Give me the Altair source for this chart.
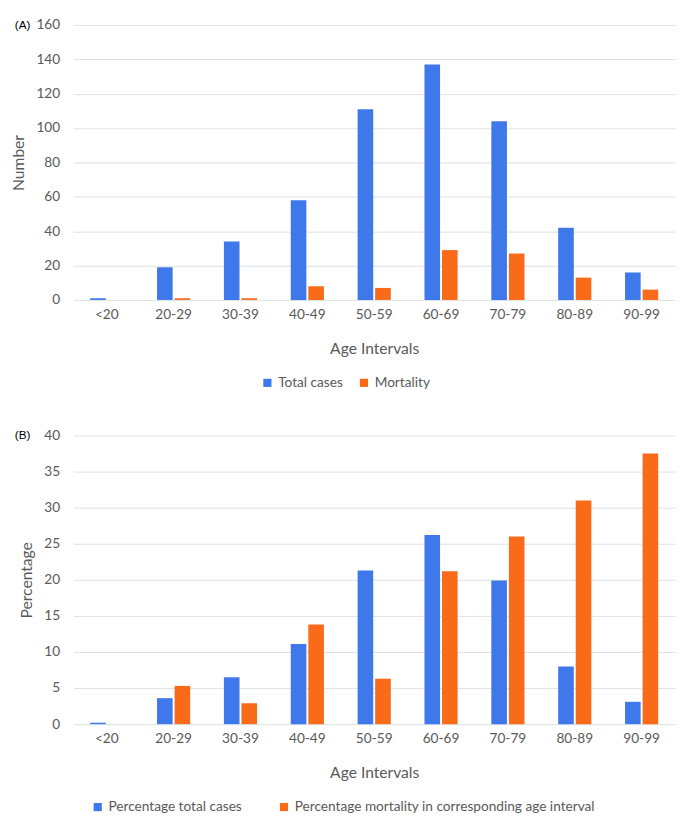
import altair as alt
import pandas as pd

ages = ["<20", "20-29", "30-39", "40-49", "50-59", "60-69", "70-79", "80-89", "90-99"]
total_cases = [1, 19, 34, 58, 111, 137, 104, 42, 16]
mortality = [0, 1, 1, 8, 7, 29, 27, 13, 6]
pct_total = [0.2, 3.6, 6.5, 11.1, 21.3, 26.2, 19.9, 8.0, 3.1]
pct_mortality = [0.0, 5.3, 2.9, 13.8, 6.3, 21.2, 26.0, 31.0, 37.5]

series_a = ["Total cases", "Mortality"]
series_b = ["Percentage total cases", "Percentage mortality in corresponding age interval"]
BLUE = "#3E78EA"
ORANGE = "#F96A19"
FONT = "Lato"
GREY = "#595959"

def long_df(s1, v1, s2, v2):
    rows = []
    for a, x, y in zip(ages, v1, v2):
        rows.append({"age": a, "series": s1, "value": x})
        rows.append({"age": a, "series": s2, "value": y})
    return pd.DataFrame(rows)

df_a = long_df(series_a[0], total_cases, series_a[1], mortality)
df_b = long_df(series_b[0], pct_total, series_b[1], pct_mortality)

W = 617

def panel(df, series, ytitle, ymax, step, label, lx, colpad, H):
    xenc = alt.X("age:N", sort=ages, title="Age Intervals",
                 scale=alt.Scale(paddingInner=0.5, paddingOuter=0.25),
                 axis=alt.Axis(labelAngle=0, ticks=False, domain=False,
                               labelPadding=8, titlePadding=20))
    yenc = alt.Y("value:Q", title=ytitle,
                 scale=alt.Scale(domain=[0, ymax], nice=False),
                 axis=alt.Axis(values=list(range(0, ymax + 1, step)), ticks=False,
                               domain=False, labelPadding=14, titlePadding=10,
                               gridColor="#D9E2E4", gridWidth=1))
    cenc = alt.Color("series:N", sort=series,
                     scale=alt.Scale(domain=series, range=[BLUE, ORANGE]),
                     legend=alt.Legend(title=None, orient="none", legendX=lx, legendY=H + 78,
                                       direction="horizontal",
                                       symbolType="square", symbolSize=70,
                                       symbolStrokeWidth=0, columnPadding=colpad,
                                       labelLimit=600,
                                       labelFontSize=14, labelColor=GREY, labelFont=FONT))
    base = alt.Chart(df)
    b1 = base.transform_filter(alt.datum.series == series[0]).mark_bar(
        width=16, xOffset=-9).encode(x=xenc, y=yenc, color=cenc)
    b2 = base.transform_filter(alt.datum.series == series[1]).mark_bar(
        width=16, xOffset=9).encode(x=xenc, y=yenc, color=cenc)
    txt = alt.Chart(pd.DataFrame({"t": [label]})).mark_text(
        align="left", baseline="middle", font="Liberation Sans", fontSize=12, color="#000000"
    ).encode(text="t:N", x=alt.value(-60), y=alt.value(0))
    return alt.layer(b1, b2, txt).properties(width=W, height=H)

pa = panel(df_a, series_a, "Number", 160, 20, "(A)", 192, 14, 282)
pb = panel(df_b, series_b, "Percentage", 40, 5, "(B)", 18, 36, 296)

chart = alt.vconcat(pa, pb, spacing=40).resolve_scale(color="independent").configure(
    font=FONT,
    padding={"left": 2, "top": 0, "right": 2, "bottom": 0},
).configure_view(stroke=None).configure_axis(
    labelFont=FONT, labelFontSize=14, labelColor=GREY,
    titleFont=FONT, titleFontSize=16, titleColor=GREY, titleFontWeight="normal",
)

chart.save("out.html", embed_options={"renderer": "svg", "actions": False})
